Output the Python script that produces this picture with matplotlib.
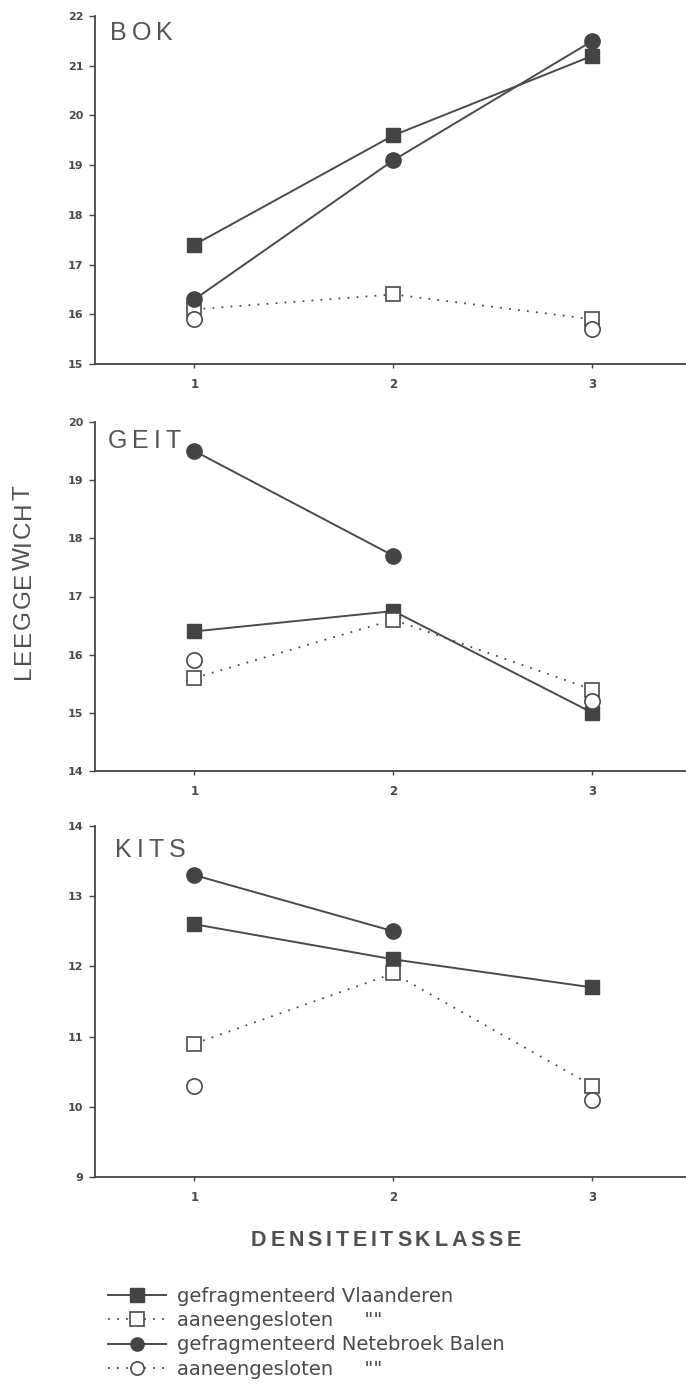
import numpy as np
import matplotlib
matplotlib.use('Agg')
import matplotlib.pyplot as plt

nan = np.nan

# densiteitsklasse
klasse = [1, 2, 3]
klasse_labels = ['1', '2', '3']

# leeggewicht per panel: gefragmenteerd/aaneengesloten, Vlaanderen/Netebroek Balen
bok_frag_vl = [17.4, 19.6, 21.2]
bok_aan_vl = [16.1, 16.4, 15.9]
bok_frag_nb = [16.3, 19.1, 21.5]
bok_aan_nb = [15.9, nan, 15.7]

geit_frag_vl = [16.4, 16.75, 15.0]
geit_aan_vl = [15.6, 16.6, 15.4]
geit_frag_nb = [19.5, 17.7, nan]
geit_aan_nb = [15.9, nan, 15.2]

kits_frag_vl = [12.6, 12.1, 11.7]
kits_aan_vl = [10.9, 11.9, 10.3]
kits_frag_nb = [13.3, 12.5, nan]
kits_aan_nb = [10.3, nan, 10.1]

panel_names = ['BOK', 'GEIT', 'KITS']
panel_ylims = [(15, 22), (14, 20), (9, 14)]

legend_labels = ['gefragmenteerd Vlaanderen',
                 'aaneengesloten     ""',
                 'gefragmenteerd Netebroek Balen',
                 'aaneengesloten     ""']

INK = '#4a4a4a'
W_PX, H_PX = 686, 1388

fig = plt.figure(figsize=(6.86, 13.88), dpi=100)
fig.patch.set_facecolor('white')


def spaced_text(x_px, y_px, s, gap_px, align='center', vertical=False, **kw):
    """Draw text letter by letter so the wide tracking of the scan can be copied"""
    r = fig.canvas.get_renderer()
    widths = []
    for ch in s:
        t = fig.text(0, 0, ch, **kw)
        widths.append(t.get_window_extent(r).width)
        t.remove()
    total = sum(widths) + gap_px * (len(s) - 1)
    pos = -total / 2 if align == 'center' else 0
    for ch, w in zip(s, widths):
        c = pos + w / 2
        if vertical:
            fig.text(x_px / W_PX, 1 - (y_px - c) / H_PX, ch, rotation=90,
                     ha='center', va='center', **kw)
        else:
            fig.text((x_px + c) / W_PX, 1 - y_px / H_PX, ch,
                     ha='center', va='baseline', **kw)
        pos += w + gap_px


# axes rectangles in pixels: left, top, bottom
rects = [(95, 16, 364), (95, 422, 771), (95, 826, 1177)]
series = [
    (bok_frag_vl, bok_aan_vl, bok_frag_nb, bok_aan_nb),
    (geit_frag_vl, geit_aan_vl, geit_frag_nb, geit_aan_nb),
    (kits_frag_vl, kits_aan_vl, kits_frag_nb, kits_aan_nb),
]
title_pos = [(110, 40), (108, 448), (115, 857)]

handles = None
for (left, top, bottom), data, name, ylim, tpos in zip(rects, series, panel_names,
                                                       panel_ylims, title_pos):
    ax = fig.add_axes([left / W_PX, 1 - bottom / H_PX, 1 - left / W_PX,
                       (bottom - top) / H_PX])
    frag_vl, aan_vl, frag_nb, aan_nb = data
    h1, = ax.plot(klasse, frag_vl, '-', color=INK, lw=1.4, marker='s', ms=9.5,
                  mfc='#444444', mec='#444444')
    h2, = ax.plot(klasse, aan_vl, linestyle=(0, (1, 4)), color=INK, lw=1.3,
                  marker='s', ms=10, mfc='white', mec=INK, mew=1.2)
    h3, = ax.plot(klasse, frag_nb, '-', color=INK, lw=1.4, marker='o', ms=11,
                  mfc='#444444', mec='#444444')
    h4, = ax.plot(klasse, aan_nb, linestyle=(0, (1, 4)), color=INK, lw=1.3,
                  marker='o', ms=11, mfc='white', mec=INK, mew=1.2)
    handles = [h1, h2, h3, h4]

    ax.set_xlim(0.5, 3.47)
    ax.set_ylim(*ylim)
    ax.set_yticks(np.arange(ylim[0], ylim[1] + 1))
    ax.set_xticks(klasse)
    ax.set_xticklabels(klasse_labels)
    for side in ['top', 'right']:
        ax.spines[side].set_visible(False)
    for side in ['left', 'bottom']:
        ax.spines[side].set_color('#444444')
        ax.spines[side].set_linewidth(1.3)
    ax.tick_params(axis='y', length=4.5, width=1, colors='#444444', pad=4,
                   labelsize=8)
    ax.tick_params(axis='x', length=3, width=1, colors='#444444', pad=7,
                   labelsize=8.5)
    for lab in ax.get_xticklabels() + ax.get_yticklabels():
        lab.set_fontweight('bold')
        lab.set_color(INK)
    ax.patch.set_alpha(0)

    spaced_text(tpos[0], tpos[1], name, 5, align='left',
                family='Liberation Sans', fontsize=18, color='#555555')

spaced_text(24, 582, 'LEEGGEWICHT', 1.5, vertical=True,
            family='Liberation Sans', fontsize=17.5, color='#505050')
spaced_text(386, 1246, 'DENSITEITSKLASSE', 3.8,
            family='Liberation Sans', fontsize=15.5, fontweight='bold',
            color='#505050')

leg = fig.legend(handles, legend_labels, loc='upper left',
                 bbox_to_anchor=(108 / W_PX, 1 - 1287 / H_PX),
                 frameon=False, borderpad=0, borderaxespad=0,
                 handlelength=3.0, handletextpad=0.57, labelspacing=0.27,
                 prop={'family': 'DejaVu Sans', 'size': 14})
for t in leg.get_texts():
    t.set_color(INK)
for lh in leg.legend_handles:
    lh.set_markersize(9.5)

fig.savefig('out.png', dpi=100, facecolor='white')
